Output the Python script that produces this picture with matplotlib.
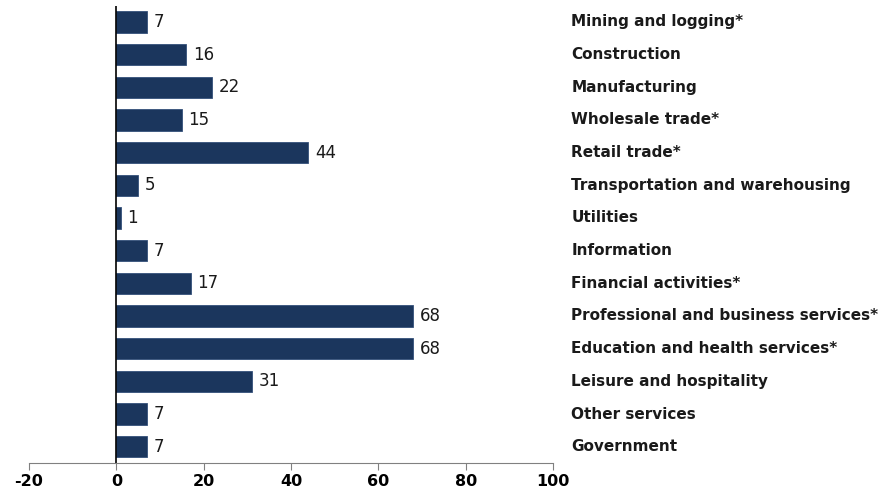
import matplotlib.pyplot as plt
import numpy as np

categories = ["Mining and logging*", "Construction", "Manufacturing", "Wholesale trade*",
              "Retail trade*", "Transportation and warehousing", "Utilities", "Information",
              "Financial activities*", "Professional and business services*",
              "Education and health services*", "Leisure and hospitality",
              "Other services", "Government"]
values = [7, 16, 22, 15, 44, 5, 1, 7, 17, 68, 68, 31, 7, 7]
xticks = [-20, 0, 20, 40, 60, 80, 100]

barColor = "#1b365d"

fig = plt.figure(figsize=(8.86, 4.96), dpi=100)
ax = fig.add_axes([0.0327, 0.0665, 0.5915, 0.9222])

y = np.arange(len(categories))
ax.barh(y, values, height=0.65, color=barColor, edgecolor="#34507a", linewidth=0.6)
for yi, v in zip(y, values):
    ax.text(v + 1.5, yi, str(v), va="center", ha="left", fontsize=12, color="#1a1a1a")

# etiquetas de categoria a la derecha
for yi, cat in zip(y, categories):
    ax.text(104.2, yi, cat, va="center", ha="left", fontsize=11, fontweight="bold",
            color="#1a1a1a", clip_on=False)

ax.set_xlim(-20, 100)
ax.set_ylim(len(categories) - 0.5, -0.5)
ax.set_yticks([])
ax.set_xticks(xticks)
ax.set_xticklabels([str(t) for t in xticks], fontsize=11.5, fontweight="bold")
ax.tick_params(axis="x", direction="out", length=5, color="#808080", pad=3)

for s in ["top", "right", "left"]:
    ax.spines[s].set_visible(False)
ax.spines["bottom"].set_color("#808080")
ax.axvline(0, color="black", linewidth=1.2)

fig.savefig("out.png", dpi=100)
